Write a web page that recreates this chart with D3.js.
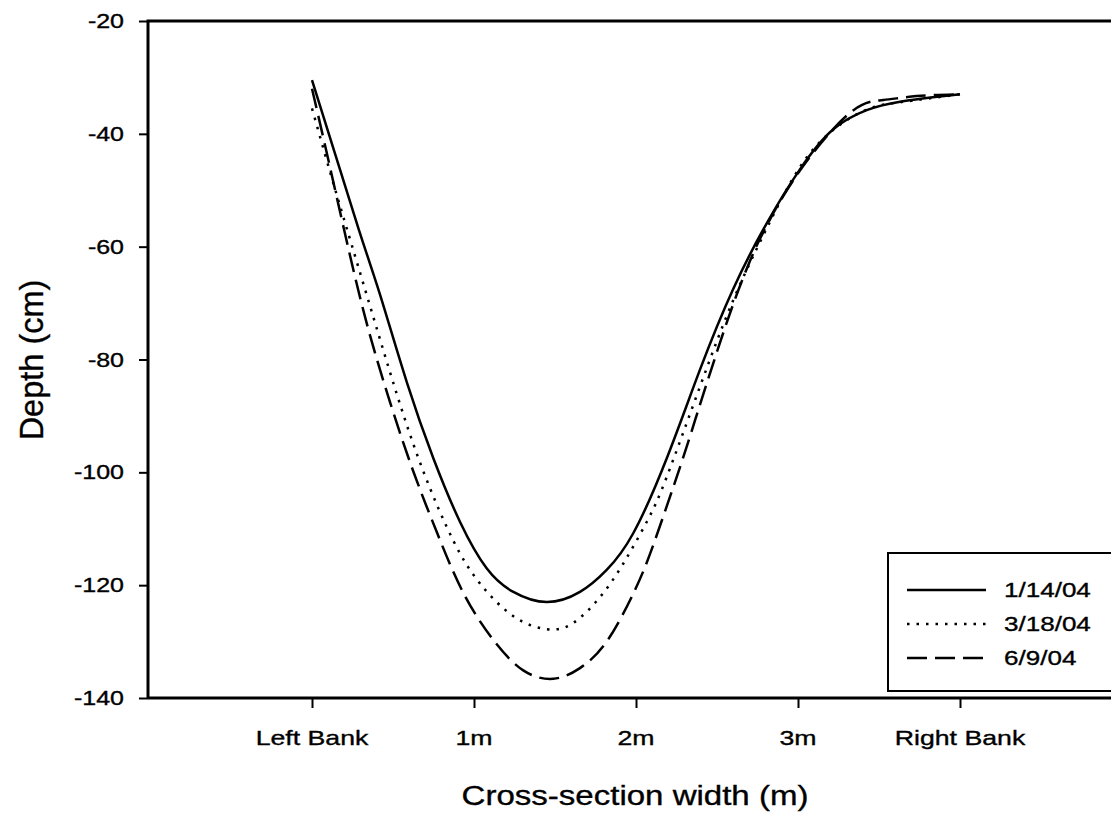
<!DOCTYPE html>
<html>
<head>
<meta charset="utf-8">
<script src="https://cdn.jsdelivr.net/npm/d3@7"></script>
<style>
  html, body { margin: 0; padding: 0; background: #fff; }
  svg { display: block; }
  text { font-family: "Liberation Sans", Arial, sans-serif; fill: #000; stroke: #000; stroke-width: 0.35px; }
</style>
</head>
<body>
<svg id="chart" width="1111" height="813"></svg>
<script>
// Channel cross-section surveys: position across the channel (m from left bank) and depth (cm)
const seriesNames = ["1/14/04", "3/18/04", "6/9/04"];

const jan14X = [0, 0.286, 0.42, 0.585, 0.749, 0.914, 1.078, 1.243, 1.449, 1.654, 1.819, 1.983, 2.19, 2.395, 2.6, 2.806, 3.012, 3.218, 3.424, 3.63, 4.0];
const jan14Depth = [-30.5, -56.7, -68.5, -84.0, -97.5, -108.8, -117.0, -121.2, -123.0, -121.2, -117.3, -110.8, -97.5, -81.8, -67.5, -55.9, -46.3, -39.2, -35.8, -34.3, -33.0];

const mar18X = [0, 0.111, 0.214, 0.358, 0.522, 0.687, 0.872, 1.037, 1.243, 1.449, 1.613, 1.778, 1.921, 2.066, 2.19, 2.395, 2.6, 2.806, 3.012, 3.218, 3.424, 3.63, 4.0];
const mar18Depth = [-35.5, -46.7, -56.7, -70.5, -86.0, -99.8, -112.1, -119.7, -125.5, -127.8, -126.7, -122.1, -116.2, -108.8, -100.8, -84.8, -69.5, -56.8, -45.9, -39.3, -35.7, -34.4, -33.0];

const jun9X = [0, 0.1, 0.214, 0.338, 0.481, 0.625, 0.769, 0.933, 1.119, 1.304, 1.489, 1.654, 1.819, 1.983, 2.086, 2.19, 2.29, 2.395, 2.498, 2.6, 2.704, 2.806, 3.012, 3.32, 3.527, 3.733, 4.0];
const jun9Depth = [-32.0, -44.5, -59.0, -73.6, -87.5, -99.8, -110.5, -121.3, -129.7, -135.1, -136.6, -134.7, -130.0, -121.5, -114.5, -106.0, -97.5, -88.0, -78.8, -70.2, -62.5, -56.3, -46.5, -36.3, -34.0, -33.3, -33.0];

const xTickValues = [0, 1, 2, 3, 4];
const xTickLabels = ["Left Bank", "1m", "2m", "3m", "Right Bank"];
const yTickValues = [-140, -120, -100, -80, -60, -40, -20];

const svg = d3.select("#chart");
const stretch = 1.25;   // glyphs are drawn slightly wide

const x = d3.scaleLinear().domain([0, 4]).range([312, 960]);
const y = d3.scaleLinear().domain([-140, -20]).range([698, 21]);
const plotLeft = 148, plotRight = 1125, plotTop = 21, plotBottom = 698;

// Frame
svg.append("path")
  .attr("d", `M${plotLeft},${plotBottom} L${plotLeft},${plotTop} L${plotRight},${plotTop}`)
  .attr("fill", "none").attr("stroke", "#000").attr("stroke-width", 3);
svg.append("line")
  .attr("x1", plotLeft).attr("x2", plotRight).attr("y1", plotBottom).attr("y2", plotBottom)
  .attr("stroke", "#000").attr("stroke-width", 3);

// Axes (ticks only; labels placed below)
const yAxis = svg.append("g").attr("transform", `translate(${plotLeft},0)`)
  .call(d3.axisLeft(y).tickValues(yTickValues).tickSize(9).tickFormat(""));
const xAxis = svg.append("g").attr("transform", `translate(0,${plotBottom})`)
  .call(d3.axisBottom(x).tickValues(xTickValues).tickSize(10).tickFormat(""));
[yAxis, xAxis].forEach(g => {
  g.select(".domain").remove();
  g.selectAll(".tick line").attr("stroke", "#000").attr("stroke-width", 2);
});

function stretchedText(parent, px, py, str, size, anchor, sx, rotate) {
  const g = parent.append("g")
    .attr("transform", `translate(${px},${py})` + (rotate ? ` rotate(${rotate})` : "") + ` scale(${sx},1)`);
  g.append("text").attr("text-anchor", anchor).attr("font-size", size).text(str);
  return g;
}

// Y tick labels
yTickValues.forEach(v => stretchedText(svg, 124, y(v) + 7, String(v), 20, "end", stretch));

// X tick labels
xTickValues.forEach((v, i) => stretchedText(svg, x(v), 745, xTickLabels[i], 21, "middle", 1.27));

// Axis titles
stretchedText(svg, 635, 805, "Cross-section width (m)", 28, "middle", 1.18);
stretchedText(svg, 43, 360, "Depth (cm)", 32.5, "middle", 1, -90);

// Survey profiles
const line = d3.line().x(d => x(d[0])).y(d => y(d[1])).curve(d3.curveNatural);
const styles = [
  { dash: null },
  { dash: "2.5,7" },
  { dash: "20,8" }
];
const profiles = [
  d3.zip(jan14X, jan14Depth),
  d3.zip(mar18X, mar18Depth),
  d3.zip(jun9X, jun9Depth)
];
profiles.forEach((pts, i) => {
  svg.append("path")
    .attr("d", line(pts))
    .attr("fill", "none").attr("stroke", "#000").attr("stroke-width", 2.5)
    .attr("stroke-dasharray", styles[i].dash);
});

// Legend
const legend = svg.append("g");
legend.append("rect")
  .attr("x", 888).attr("y", 553).attr("width", 260).attr("height", 138)
  .attr("fill", "#fff").attr("stroke", "#000").attr("stroke-width", 2);
seriesNames.forEach((name, i) => {
  const ly = 590 + i * 34;
  legend.append("line")
    .attr("x1", 907).attr("x2", 986).attr("y1", ly).attr("y2", ly)
    .attr("stroke", "#000").attr("stroke-width", 2.5)
    .attr("stroke-dasharray", styles[i].dash);
  stretchedText(legend, 1004, ly + 7, name, 21, "start", 1.24);
});
</script>
</body>
</html>
